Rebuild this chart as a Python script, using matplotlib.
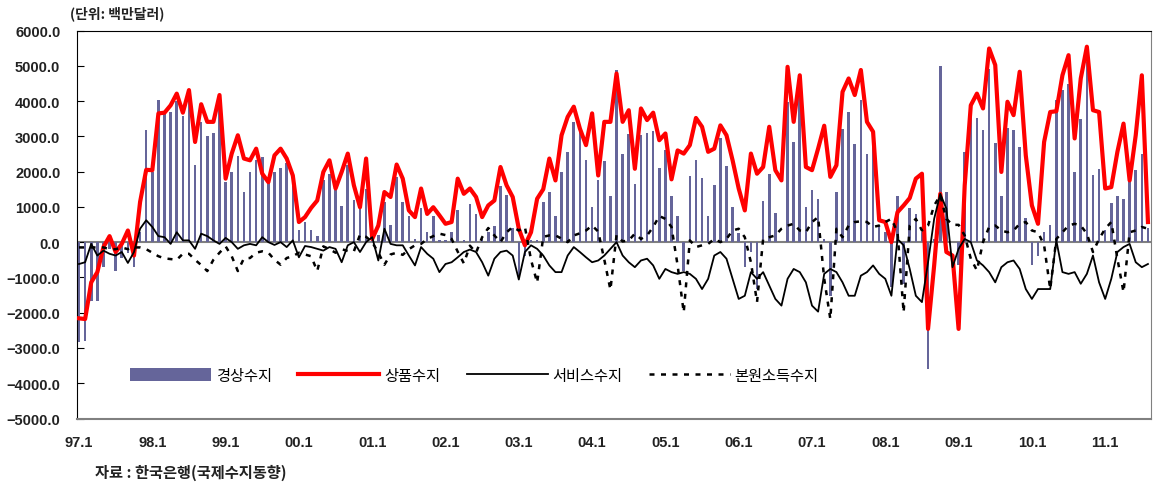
import matplotlib
matplotlib.use("Agg")
import matplotlib.pyplot as plt
from matplotlib.ticker import FuncFormatter
import numpy as np

# monthly data, 1997.1 - 2011.8 (unit: million USD)
current_account = [
    -2820, -2790, -1680, -1680, -700, -200, -830, -450, -300, -700, 300, 3170,
    2000, 4020, 3650, 3690, 4000, 3580, 4100, 2200, 3400, 3000, 3100, 3900,
    1700, 2000, 2430, 1420, 2000, 2330, 2400, 1720, 2000, 2100, 2230, 1580,
    340, 560, 340, 170, 1750, 1930, 1490, 1020, 2200, 1200, 950, 1500,
    380, 190, 1140, 480, 1850, 1140, 740, 90, 970, 280, 730, 50,
    50, 280, 900, 50, 1070, 790, 90, 280, 450, 1580, 1350, 400,
    -950, -380, 50, 50, 1140, 1420, 730, 1990, 2560, 3410, 3290, 2320,
    1000, 1775, 2300, 1320, 4880, 2490, 3060, 1640, 3030, 3100, 3150, 2100,
    2600, 1300, 730, -830, 1870, 2320, 1820, 730, 1630, 2950, 2150, 1010,
    270, -710, -280, -1330, 1180, 1920, 830, 0, 3960, 2840, 4190, 1010,
    1470, 1230, 90, -1520, 1420, 3220, 3690, 2770, 4020, 2490, 2770, 470,
    300, -1280, 1300, -1200, 970, 790, 280, -3600, 100, 5000, 1420, 0,
    -660, 2560, 3740, 3520, 3170, 4900, 2800, 1300, 3240, 3170, 2700, 680,
    -640, -380, 300, 500, 4020, 4310, 4480, 1990, 3500, 5100, 1910, 2080,
    350, 1110, 1300, 1230, 2150, 2040, 2500, 400,
]
goods = [
    -2160, -2180, -1140, -850, -140, 170, -280, -50, 330, -380, 1140, 2050,
    2040, 3650, 3670, 3880, 4210, 3670, 4310, 2840, 3910, 3410, 3410, 4170,
    1800, 2510, 3030, 2370, 2320, 2650, 1940, 1700, 2460, 2650, 2370, 1890,
    570, 710, 970, 1180, 1990, 2320, 1520, 1990, 2510, 1610, 990, 2370,
    90, 470, 1420, 1280, 2200, 1800, 900, 710, 1520, 800, 990, 760,
    520, 570, 1800, 1370, 1520, 1280, 710, 1040, 1180, 2130, 1610, 1280,
    380, -90, 280, 1230, 1500, 2370, 1750, 3030, 3550, 3840, 3220, 2750,
    3650, 1890, 3410, 3410, 4780, 3410, 3740, 2080, 3790, 3460, 3670, 2890,
    3080, 1780, 2600, 2510, 2750, 3520, 3270, 2560, 2650, 3310, 3030, 2320,
    1520, 900, 2510, 1940, 2130, 3270, 2040, 1750, 4970, 3410, 4730, 2130,
    2040, 2650, 3300, 1850, 2180, 4260, 4640, 4170, 4880, 3410, 3130, 620,
    570, 0, 850, 1040, 1250, 1800, 1940, -2460, -660, 1370, -280, -380,
    -2460, 1610, 3880, 4210, 3790, 5490, 5020, 1990, 3980, 3600, 4830, 2460,
    1040, 520, 2840, 3690, 3710, 4730, 5300, 2940, 4640, 5540, 3740, 3690,
    1520, 1560, 2560, 3360, 1750, 3030, 4730, 570,
]
services = [
    -620, -570, -50, -380, -240, -330, -380, -280, -590, -280, 380, 620,
    430, 170, 140, -50, 280, 50, 50, -190, 240, 170, 50, -50,
    120, 0, -190, -90, -50, -90, 140, 0, -80, 0, -140, 50,
    -430, -110, -140, -190, -240, -140, -190, -570, -90, 0, -280, 0,
    140, -520, 380, -50, -90, -90, -380, -660, -140, -330, -470, -850,
    -620, -570, -430, -280, -210, -280, -570, -950, -470, -280, -240, -380,
    -1060, -280, -90, -190, -380, -660, -850, -850, -380, -140, -280, -430,
    -570, -520, -380, -190, 0, -380, -570, -710, -520, -470, -660, -1040,
    -760, -850, -900, -850, -900, -1040, -1330, -1040, -380, -280, -470, -1040,
    -1610, -1520, -850, -1040, -850, -1230, -1610, -1800, -1040, -760, -850, -1140,
    -1800, -1970, -900, -760, -850, -1140, -1520, -1520, -950, -850, -660, -900,
    -1040, -1520, 90, -90, -760, -1520, -1700, -570, 660, 1370, 950, -710,
    -190, 90, 0, -520, -660, -850, -1140, -710, -570, -520, -760, -1330,
    -1610, -1330, -1330, -1330, 50, -850, -900, -850, -1180, -900, -380, -1140,
    -1610, -1040, -280, -140, -50, -570, -710, -620,
]
primary_income = [
    -150, -150, -150, -150, -150, -200, -200, -150, -200, -150, -150, -200,
    -300, -400, -460, -480, -500, -330, -330, -500, -650, -820, -500, -300,
    -120, -400, -820, -460, -450, -300, -260, -300, -500, -640, -450, -400,
    -300, -350, -400, -820, -120, -200, -300, -200, -250, -260, 210, 150,
    0, -300, -640, -350, -300, -360, -200, -90, -50, 90, 170, 240,
    200, 90, -270, -600, -100, -300, 140, 400, 190, 0, 280, 430,
    330, 430, -500, -1150, 150, 190, 190, 100, 0, 190, 250, 330,
    470, 300, -500, -1350, 200, 20, 50, 240, 90, 190, 430, 740,
    660, 430, -660, -1990, 50, -140, -90, -50, 90, 0, 90, 330,
    380, 140, -570, -1700, 90, 140, 190, 380, 470, 520, 330, 280,
    570, 710, -1040, -2180, 380, 140, 470, 570, 590, 570, 430, 470,
    570, 660, 280, -1990, 470, 660, 330, 470, 1040, 1330, 660, 490,
    490, 190, -470, -800, 0, 430, 470, 330, 280, 330, 520, 570,
    330, 280, -90, -1330, 90, 280, 470, 520, 470, 240, -280, 90,
    380, 570, -470, -1420, 280, 330, 430, 380,
]
tick_labels = ["97.1", "98.1", "99.1", "00.1", "01.1", "02.1", "03.1", "04.1",
               "05.1", "06.1", "07.1", "08.1", "09.1", "10.1", "11.1"]
legend_labels = ["경상수지", "상품수지", "서비스수지", "본원소득수지"]

KR = ["Noto Sans CJK KR", "DejaVu Sans"]
NUM = ["Liberation Sans", "DejaVu Sans"]

x = np.arange(len(current_account))

fig = plt.figure(figsize=(11.53, 4.89), dpi=100)
ax = fig.add_axes([77 / 1153, 1 - 419.5 / 489, 1074 / 1153, 388 / 489])

bars = ax.bar(x, current_account, width=0.42, color="#65659a", zorder=2)
(l_goods,) = ax.plot(x, goods, color="#ff0000", lw=3.0, zorder=3,
                     solid_joinstyle="round")
(l_serv,) = ax.plot(x, services, color="black", lw=1.3, zorder=4)
(l_inc,) = ax.plot(x, primary_income, color="black", lw=1.8,
                   linestyle=(0, (2.0, 2.6)), zorder=5)
ax.axhline(0, color="#808080", lw=1.5, zorder=1)

ax.set_xlim(-0.33, 175.5)
ax.set_ylim(-5000, 6000)
ax.set_yticks(np.arange(-5000, 6001, 1000))
ax.yaxis.set_major_formatter(
    FuncFormatter(lambda v, p: f"\u2212{abs(v):.1f}" if v < 0 else f"{v:.1f}"))
ax.set_xticks(np.arange(0, 169, 12))
ax.set_xticklabels(tick_labels)
ax.tick_params(axis="x", length=0, pad=12, labelsize=10.5, labelcolor="#222222")
ax.tick_params(axis="y", direction="in", length=5, pad=12, labelsize=10.5,
               labelcolor="#222222")
for lab in ax.get_xticklabels() + ax.get_yticklabels():
    lab.set_family(NUM)
    lab.set_fontweight("bold")

for side in ["top", "left"]:
    ax.spines[side].set_color("black")
ax.spines["right"].set_color("#808080")
ax.spines["bottom"].set_color("#808080")
ax.spines["bottom"].set_linewidth(1.5)

leg = ax.legend([bars, l_goods, l_serv, l_inc], legend_labels, ncol=4,
                loc="center", bbox_to_anchor=(0.370, 0.112), frameon=False,
                handlelength=5.3, handleheight=0.9, handletextpad=0.3,
                columnspacing=1.75, prop={"family": KR, "size": 11})

fig.text(70 / 1153, 1 - 14 / 489, "(단위: 백만달러)", family=KR, fontsize=10,
         fontweight="bold", va="center", ha="left", color="#222222")
fig.text(95 / 1153, 1 - 473 / 489, "자료 : 한국은행(국제수지동향)", family=KR,
         fontsize=11, fontweight="bold", va="center", ha="left", color="#222222")

fig.savefig("out.png", dpi=100)
